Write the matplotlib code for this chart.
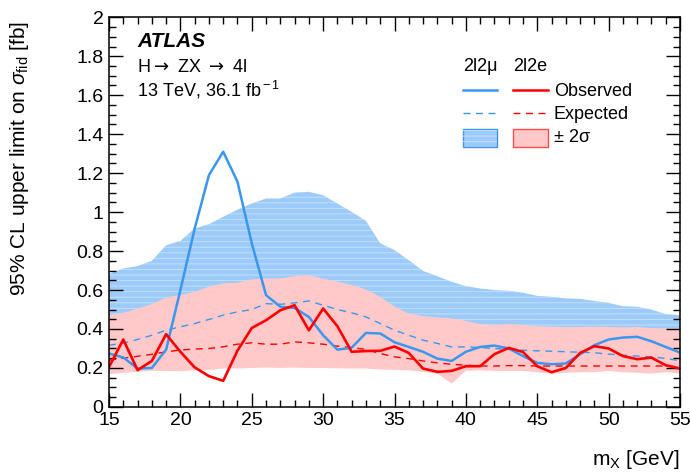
import matplotlib
matplotlib.use('Agg')
import matplotlib.pyplot as plt
from matplotlib.lines import Line2D
from matplotlib.patches import Rectangle
from matplotlib.ticker import MultipleLocator

plt.rcParams['font.family'] = ['Liberation Sans', 'DejaVu Sans']
plt.rcParams['mathtext.fontset'] = 'custom'
plt.rcParams['mathtext.rm'] = 'Liberation Sans'
plt.rcParams['mathtext.it'] = 'Liberation Sans:italic'
plt.rcParams['hatch.linewidth'] = 0.6

# signal mass points [GeV]
mass = list(range(15, 56))

# 2l2mu channel
obs_mu = [0.274, 0.254, 0.197, 0.200, 0.294, 0.600, 0.915, 1.190, 1.310, 1.156,
          0.840, 0.574, 0.514, 0.508, 0.462, 0.368, 0.294, 0.304, 0.380, 0.377,
          0.332, 0.308, 0.283, 0.248, 0.236, 0.283, 0.308, 0.315, 0.300, 0.261,
          0.226, 0.219, 0.223, 0.270, 0.317, 0.346, 0.356, 0.360, 0.337, 0.308,
          0.279]
exp_mu = [0.317, 0.327, 0.346, 0.368, 0.394, 0.411, 0.428, 0.449, 0.471, 0.488,
          0.500, 0.530, 0.527, 0.534, 0.544, 0.522, 0.500, 0.483, 0.462, 0.428,
          0.394, 0.368, 0.343, 0.326, 0.308, 0.308, 0.305, 0.300, 0.295, 0.291,
          0.288, 0.286, 0.283, 0.281, 0.278, 0.271, 0.266, 0.261, 0.257, 0.249,
          0.237]
up_mu = [0.682, 0.711, 0.723, 0.750, 0.830, 0.852, 0.916, 0.938, 0.976, 1.013,
         1.044, 1.070, 1.070, 1.100, 1.104, 1.087, 1.044, 1.001, 0.955, 0.840,
         0.805, 0.753, 0.698, 0.671, 0.642, 0.620, 0.608, 0.600, 0.596, 0.586,
         0.570, 0.565, 0.557, 0.555, 0.544, 0.534, 0.517, 0.514, 0.500, 0.476,
         0.471]
dn_mu = [0.20, 0.20, 0.21, 0.22, 0.24, 0.25, 0.26, 0.27, 0.28, 0.29,
         0.30, 0.31, 0.31, 0.32, 0.32, 0.31, 0.30, 0.29, 0.28, 0.26,
         0.24, 0.23, 0.22, 0.21, 0.20, 0.20, 0.19, 0.19, 0.19, 0.19,
         0.19, 0.19, 0.19, 0.19, 0.19, 0.19, 0.19, 0.19, 0.19, 0.19,
         0.19]

# 2l2e channel
obs_e = [0.205, 0.346, 0.189, 0.236, 0.373, 0.283, 0.203, 0.158, 0.134, 0.289,
         0.405, 0.445, 0.496, 0.522, 0.393, 0.505, 0.414, 0.283, 0.287, 0.288,
         0.310, 0.277, 0.197, 0.180, 0.185, 0.209, 0.209, 0.271, 0.303, 0.282,
         0.209, 0.178, 0.200, 0.277, 0.312, 0.300, 0.261, 0.245, 0.253, 0.214,
         0.197]
exp_e = [0.240, 0.250, 0.260, 0.270, 0.283, 0.292, 0.297, 0.300, 0.309, 0.322,
         0.329, 0.322, 0.322, 0.334, 0.329, 0.322, 0.312, 0.305, 0.295, 0.274,
         0.257, 0.248, 0.236, 0.226, 0.219, 0.214, 0.210, 0.210, 0.212, 0.212,
         0.210, 0.210, 0.210, 0.210, 0.210, 0.210, 0.210, 0.210, 0.210, 0.210,
         0.205]
up_e = [0.471, 0.483, 0.505, 0.528, 0.562, 0.574, 0.591, 0.617, 0.634, 0.638,
        0.655, 0.659, 0.659, 0.671, 0.677, 0.659, 0.643, 0.626, 0.603, 0.565,
        0.515, 0.479, 0.466, 0.459, 0.455, 0.442, 0.425, 0.420, 0.425, 0.420,
        0.415, 0.412, 0.410, 0.410, 0.412, 0.410, 0.408, 0.410, 0.405, 0.403,
        0.402]
dn_e = [0.168, 0.175, 0.180, 0.185, 0.185, 0.183, 0.188, 0.190, 0.197, 0.197,
        0.200, 0.202, 0.200, 0.202, 0.200, 0.200, 0.198, 0.197, 0.197, 0.192,
        0.190, 0.188, 0.180, 0.171, 0.120, 0.185, 0.188, 0.185, 0.185, 0.185,
        0.178, 0.171, 0.175, 0.178, 0.178, 0.185, 0.178, 0.175, 0.171, 0.178,
        0.171]

c_mu_band = '#9dcbf9'
c_mu_line = '#3a97ef'
c_e_band = '#ffc9c9'
c_e_line = '#ff0000'

fig = plt.figure(figsize=(6.9, 4.73), dpi=100)
ax = fig.add_axes([0.158, 0.1397, 0.8275, 0.8237])

# +-2 sigma bands, muon band underneath the electron one
ax.fill_between(mass, dn_mu, up_mu, facecolor=c_mu_band, edgecolor='none', lw=0)
ax.fill_between(mass, dn_mu, up_mu, facecolor='none', edgecolor='#c8e2fc',
                hatch='---', lw=0)
ax.fill_between(mass, dn_e, up_e, facecolor=c_e_band, edgecolor='none', lw=0)

ax.plot(mass, exp_mu, color=c_mu_line, lw=1.0, ls=(0, (5, 4)))
ax.plot(mass, exp_e, color=c_e_line, lw=1.0, ls=(0, (5, 4)))
ax.plot(mass, obs_mu, color=c_mu_line, lw=1.8)
ax.plot(mass, obs_e, color=c_e_line, lw=1.9)

ax.set_xlim(15, 55)
ax.set_ylim(0, 2)
ax.xaxis.set_major_locator(MultipleLocator(5))
ax.xaxis.set_minor_locator(MultipleLocator(1))
ax.yaxis.set_major_locator(MultipleLocator(0.2))
ax.yaxis.set_minor_locator(MultipleLocator(0.05))
ax.yaxis.set_major_formatter(plt.FuncFormatter(lambda v, p: ('%g' % v)))
ax.tick_params(which='both', direction='in', top=True, right=True, width=1.0,
               labelsize=14)
ax.tick_params(which='major', length=10, pad=4)
ax.tick_params(which='minor', length=5)
for s in ax.spines.values():
    s.set_linewidth(1.1)

ax.set_xlabel(r'm$_{\rm X}$ [GeV]', fontsize=15, loc='right')
ax.xaxis.set_label_coords(1.0, -0.105)
ax.set_ylabel(r'95% CL upper limit on $\sigma_{\rm fid}$ [fb]', fontsize=15,
              loc='top')
ax.yaxis.set_label_coords(-0.137, 0.99)

ax.text(0.049, 0.925, 'ATLAS', transform=ax.transAxes, fontsize=15,
        fontweight='bold', fontstyle='italic')
ax.text(0.049, 0.86, r'H$\rightarrow$ ZX $\rightarrow$ 4l',
        transform=ax.transAxes, fontsize=13, math_fontfamily='dejavusans')
ax.text(0.049, 0.796, r'13 TeV, 36.1 fb$^{\rm -1}$', transform=ax.transAxes,
        fontsize=13)

# legend: two channel columns sharing the row labels
tr = ax.transAxes
ax.text(0.650, 0.863, '2l2\u03bc', transform=tr, fontsize=13, ha='center')
ax.text(0.737, 0.863, '2l2e', transform=tr, fontsize=13, ha='center')
for x0, col in [(0.620, c_mu_line), (0.708, c_e_line)]:
    ax.add_line(Line2D([x0, x0 + 0.060], [0.813, 0.813], color=col, lw=1.8,
                       transform=tr, clip_on=False))
    ax.add_line(Line2D([x0, x0 + 0.060], [0.755, 0.755], color=col, lw=1.0,
                       ls=(0, (5, 4)), transform=tr, clip_on=False))
ax.add_patch(Rectangle((0.620, 0.667), 0.060, 0.046, transform=tr,
                       facecolor=c_mu_band, edgecolor=c_mu_line, lw=1.0,
                       clip_on=False))
ax.add_patch(Rectangle((0.620, 0.667), 0.060, 0.046, transform=tr,
                       facecolor='none', edgecolor='#c8e2fc', hatch='---',
                       lw=0, clip_on=False))
ax.add_patch(Rectangle((0.708, 0.667), 0.060, 0.046, transform=tr,
                       facecolor=c_e_band, edgecolor='#ff4a4a', lw=1.0,
                       clip_on=False))
ax.text(0.779, 0.798, 'Observed', transform=tr, fontsize=13)
ax.text(0.779, 0.738, 'Expected', transform=tr, fontsize=13)
ax.text(0.779, 0.680, '\u00b1 2\u03c3', transform=tr, fontsize=13)

fig.savefig('out.png', dpi=100)
